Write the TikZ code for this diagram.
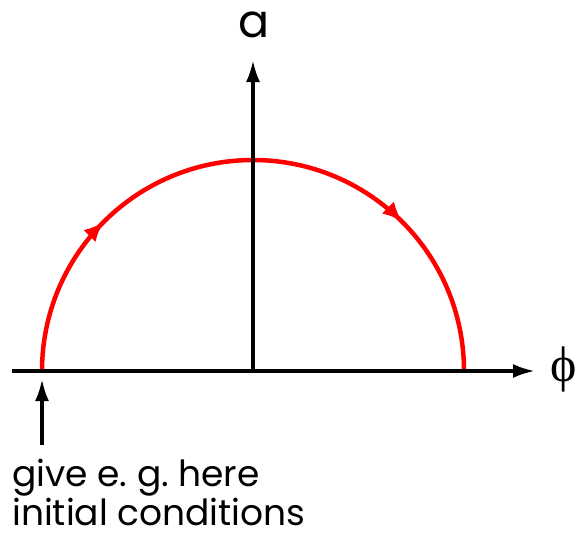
\documentclass[tikz,border=0pt]{standalone}
\usepackage{fontspec}
\setmainfont{Poppins}
\newfontfamily\phifont{Liberation Serif}
\usetikzlibrary{arrows.meta,decorations.markings}

\begin{document}
\begin{tikzpicture}[x=1pt,y=-1pt,>={Latex[length=22pt,width=14pt]},
  axis/.style={line width=3.5pt},
  orbit/.style={draw=red,line width=4.5pt,postaction={decorate},
    decoration={markings,
      mark=at position 0.25 with {\arrow{Latex[length=20pt,width=17pt]}},
      mark=at position 0.75 with {\arrow{Latex[length=20pt,width=17pt]}}}},
  lbl/.style={inner sep=0pt,font=\fontsize{36}{36}\selectfont}]
\useasboundingbox (0,0) rectangle (577,533);
\coordinate (origin) at (253,371);
\coordinate (xstart) at (12,371);
\coordinate (xend) at (535,371);
\coordinate (yend) at (253,60);
\coordinate (start) at (42,371);
\coordinate (hint) at (42,445);
\node[anchor=center,inner sep=0pt,font=\phifont\fontsize{50}{50}\selectfont] (phi) at (564,369) {ϕ};
\node[anchor=base,lbl,font=\fontsize{46}{46}\selectfont] (alab) at (254,37) {a};
\node[anchor=base west,lbl,align=left] (note) at (12,525)
  {give e.\ g.\ here\\initial conditions};
\draw[orbit] (start) arc[start angle=180,end angle=360,radius=211];
\draw[axis,->] (xstart)--(xend);
\draw[axis,->] (origin)--(yend);
\draw[axis,->,shorten >=-1pt] (hint)--(start|-0,380);
\end{tikzpicture}
\end{document}
